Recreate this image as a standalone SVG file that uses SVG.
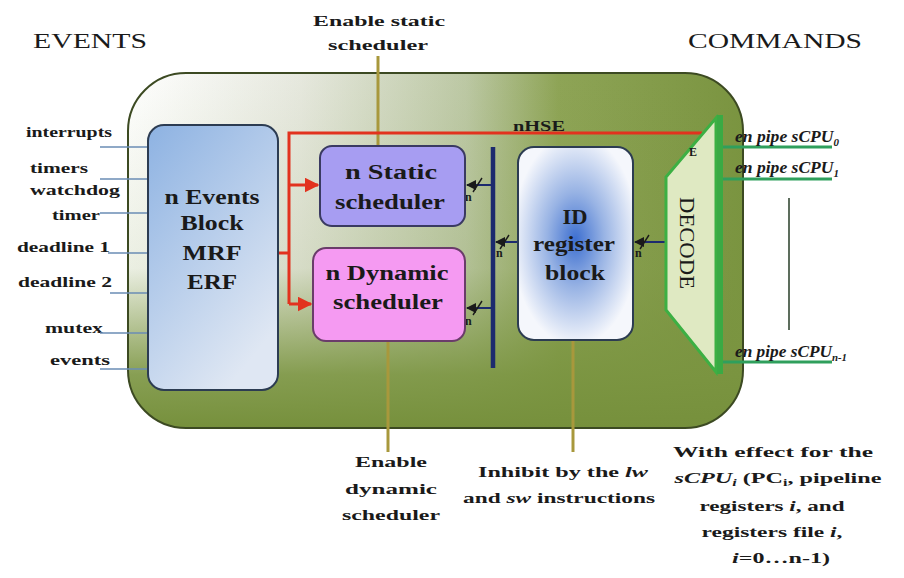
<svg xmlns="http://www.w3.org/2000/svg" width="904" height="578" viewBox="0 0 904 578">
  <style>
    text { font-family: "Liberation Serif", "Times New Roman", serif; fill: #1a1a1a; }
    .b { font-weight: bold; }
    .lbl { font-size: 14px; font-weight: bold; }
    .box { font-size: 20px; font-weight: bold; text-anchor: middle; }
    .cap { font-size: 15px; font-weight: bold; text-anchor: middle; }
    .head { font-size: 22px; }
    .out { font-size: 16px; font-style: italic; font-weight: bold; }
    .n { font-size: 12px; font-weight: bold; }
    .in { stroke: #6a8cb4; stroke-width: 1.6; fill: none; }
    .olive { stroke: #a8983c; stroke-width: 3; fill: none; }
    .red { stroke: #e2321e; stroke-width: 3; fill: none; }
    .bus { stroke: #1c2a6e; stroke-width: 2; fill: none; }
    .tick { stroke: #1a1a1a; stroke-width: 1.4; fill: none; }
    .grn { stroke: #2f9f5c; stroke-width: 3; fill: none; }
  </style>
  <defs>
    <linearGradient id="hz" gradientUnits="userSpaceOnUse" x1="128" y1="0" x2="743" y2="0">
      <stop offset="0" stop-color="#ffffff"/>
      <stop offset="0.28" stop-color="#e6e8de"/>
      <stop offset="0.55" stop-color="#bcc8a4"/>
      <stop offset="0.7" stop-color="#8ea456"/>
      <stop offset="1" stop-color="#7a9440"/>
    </linearGradient>
    <linearGradient id="vt" gradientUnits="userSpaceOnUse" x1="0" y1="73" x2="0" y2="428">
      <stop offset="0" stop-color="#7a9440" stop-opacity="0"/>
      <stop offset="0.55" stop-color="#7a9440" stop-opacity="0.15"/>
      <stop offset="0.85" stop-color="#7a9440" stop-opacity="0.9"/>
      <stop offset="1" stop-color="#76903c" stop-opacity="1"/>
    </linearGradient>
    <linearGradient id="evg" x1="0" y1="0" x2="0.6" y2="1">
      <stop offset="0" stop-color="#8db2e2"/>
      <stop offset="1" stop-color="#dfe7f3"/>
    </linearGradient>
    <radialGradient id="idg" cx="0.5" cy="0.48" r="0.55">
      <stop offset="0" stop-color="#3d6fd0"/>
      <stop offset="0.45" stop-color="#98b3e4"/>
      <stop offset="1" stop-color="#f5f7fc"/>
    </radialGradient>
    <marker id="ar" viewBox="0 0 10 10" refX="9" refY="5" markerWidth="5" markerHeight="5" orient="auto">
      <path d="M0,0 L10,5 L0,10 z" fill="#e2321e"/>
    </marker>
    <marker id="ak" viewBox="0 0 10 10" refX="9" refY="5" markerWidth="5" markerHeight="5" orient="auto">
      <path d="M0,0 L10,5 L0,10 z" fill="#1a1a1a"/>
    </marker>
  </defs>

  <rect width="904" height="578" fill="#ffffff"/>

  <!-- headings -->
  <text class="head" x="33" y="48" textLength="114" lengthAdjust="spacingAndGlyphs">EVENTS</text>
  <text class="head" x="688" y="48" textLength="174" lengthAdjust="spacingAndGlyphs">COMMANDS</text>

  <!-- processor body -->
  <g id="body">
    <rect x="128" y="73" width="615" height="355" rx="58" ry="58" fill="url(#hz)"/>
    <rect x="128" y="73" width="615" height="355" rx="58" ry="58" fill="url(#vt)" stroke="#3c4a22" stroke-width="2"/>
  </g>

  <!-- input labels -->
  <g id="inputs">
    <text class="lbl" x="26" y="137" textLength="86" lengthAdjust="spacingAndGlyphs">interrupts</text>
    <text class="lbl" x="30" y="173" textLength="58" lengthAdjust="spacingAndGlyphs">timers</text>
    <text class="lbl" x="30" y="195" textLength="90" lengthAdjust="spacingAndGlyphs">watchdog</text>
    <text class="lbl" x="52" y="220" textLength="48" lengthAdjust="spacingAndGlyphs">timer</text>
    <text class="lbl" x="17" y="252" textLength="93" lengthAdjust="spacingAndGlyphs">deadline 1</text>
    <text class="lbl" x="18" y="287" textLength="94" lengthAdjust="spacingAndGlyphs">deadline 2</text>
    <text class="lbl" x="45" y="333" textLength="58" lengthAdjust="spacingAndGlyphs">mutex</text>
    <text class="lbl" x="50" y="365" textLength="60" lengthAdjust="spacingAndGlyphs">events</text>
  </g>

  <!-- connectors -->
  <g id="connectors">
    <!-- event inputs -->
    <line class="in" x1="100" y1="147" x2="148" y2="147"/>
    <line class="in" x1="100" y1="179" x2="148" y2="179"/>
    <line class="in" x1="100" y1="213" x2="148" y2="213"/>
    <line class="in" x1="108" y1="253" x2="148" y2="253"/>
    <line class="in" x1="110" y1="293" x2="148" y2="293"/>
    <line class="in" x1="100" y1="333" x2="148" y2="333"/>
    <line class="in" x1="100" y1="369" x2="148" y2="369"/>

    <!-- enable / inhibit lines -->
    <line class="olive" x1="378" y1="56" x2="378" y2="146"/>
    <line class="olive" x1="388" y1="341" x2="388" y2="452"/>
    <line class="olive" x1="573" y1="340" x2="573" y2="452"/>

    <!-- nHSE and scheduler activation -->
    <polyline class="red" points="702,133 289,133 289,304"/>
    <line class="red" x1="277" y1="253" x2="289" y2="253"/>
    <line class="red" x1="289" y1="185" x2="318" y2="185" marker-end="url(#ar)"/>
    <line class="red" x1="289" y1="304" x2="311" y2="304" marker-end="url(#ar)"/>

    <!-- n-bit bus -->
    <line x1="493" y1="147" x2="493" y2="368" stroke="#1c2a6e" stroke-width="4.5"/>
    <line class="bus" x1="493" y1="185" x2="467" y2="185" marker-end="url(#ak)"/>
    <line class="tick" x1="473" y1="192" x2="482" y2="178"/>
    <line class="bus" x1="493" y1="308" x2="467" y2="308" marker-end="url(#ak)"/>
    <line class="tick" x1="473" y1="315" x2="482" y2="301"/>
    <line class="bus" x1="518" y1="242" x2="496" y2="242" marker-end="url(#ak)"/>
    <line class="tick" x1="500" y1="249" x2="509" y2="235"/>
    <line class="bus" x1="666" y1="242" x2="635" y2="242" marker-end="url(#ak)"/>
    <line class="tick" x1="640" y1="249" x2="649" y2="235"/>

    <!-- decoded enables -->
    <line class="grn" x1="720" y1="147" x2="832" y2="147"/>
    <line class="grn" x1="720" y1="179" x2="832" y2="179"/>
    <line class="grn" x1="720" y1="362" x2="832" y2="362"/>
    <line x1="789" y1="198" x2="789" y2="330" stroke="#5d6d5d" stroke-width="2"/>
  </g>

  <!-- bus width labels -->
  <g id="widths">
    <text class="n" x="465" y="201">n</text>
    <text class="n" x="465" y="325">n</text>
    <text class="n" x="496" y="257">n</text>
    <text class="n" x="635" y="257">n</text>
  </g>

  <g id="events-block">
    <rect x="148" y="125" width="130" height="265" rx="16" fill="url(#evg)" stroke="#2c3c52" stroke-width="2"/>
    <text class="box" x="212" y="204" textLength="95" lengthAdjust="spacingAndGlyphs">n Events</text>
    <text class="box" x="212" y="230" textLength="63" lengthAdjust="spacingAndGlyphs">Block</text>
    <text class="box" x="212" y="260" textLength="59" lengthAdjust="spacingAndGlyphs">MRF</text>
    <text class="box" x="212" y="289" textLength="50" lengthAdjust="spacingAndGlyphs">ERF</text>
  </g>

  <g id="static-scheduler">
    <rect x="320" y="146" width="145" height="80" rx="12" fill="#a79df2" stroke="#3a3a62" stroke-width="2"/>
    <text class="box" x="391" y="179" textLength="92" lengthAdjust="spacingAndGlyphs">n Static</text>
    <text class="box" x="390" y="209" textLength="110" lengthAdjust="spacingAndGlyphs">scheduler</text>
  </g>

  <g id="dynamic-scheduler">
    <rect x="313" y="248" width="152" height="93" rx="13" fill="#f59af2" stroke="#6a3c6a" stroke-width="2"/>
    <text class="box" x="387" y="280" textLength="123" lengthAdjust="spacingAndGlyphs">n Dynamic</text>
    <text class="box" x="388" y="309" textLength="110" lengthAdjust="spacingAndGlyphs">scheduler</text>
  </g>

  <g id="id-register-block">
    <rect x="518" y="147" width="115" height="193" rx="16" fill="url(#idg)" stroke="#2c3c52" stroke-width="2"/>
    <text class="box" x="575" y="224" textLength="25" lengthAdjust="spacingAndGlyphs">ID</text>
    <text class="box" x="574" y="251" textLength="82" lengthAdjust="spacingAndGlyphs">register</text>
    <text class="box" x="575" y="280" textLength="60" lengthAdjust="spacingAndGlyphs">block</text>
  </g>

  <g id="decode">
    <polygon points="716,118 716,372 666,310 666,177" fill="#dfe9c2" stroke="#3cb043" stroke-width="3"/>
    <line x1="720" y1="115" x2="720" y2="374" stroke="#3aaa44" stroke-width="6"/>
    <text x="680" y="243" font-size="21" text-anchor="middle" transform="rotate(90 680 243)" textLength="92" lengthAdjust="spacingAndGlyphs">DECODE</text>
    <text class="n" x="689" y="156">E</text>
  </g>

  <!-- labels on connectors -->
  <text class="lbl" x="513" y="131" textLength="52" lengthAdjust="spacingAndGlyphs">nHSE</text>

  <g id="outputs">
    <text class="out" x="735" y="142" textLength="104" lengthAdjust="spacingAndGlyphs">en pipe sCPU<tspan font-size="10" dy="4">0</tspan></text>
    <text class="out" x="735" y="173" textLength="104" lengthAdjust="spacingAndGlyphs">en pipe sCPU<tspan font-size="10" dy="4">1</tspan></text>
    <text class="out" x="735" y="357" textLength="112" lengthAdjust="spacingAndGlyphs">en pipe sCPU<tspan font-size="10" dy="4">n-1</tspan></text>
  </g>

  <!-- captions -->
  <g id="captions">
    <text class="cap" x="379" y="26" textLength="132" lengthAdjust="spacingAndGlyphs">Enable static</text>
    <text class="cap" x="378" y="50" textLength="100" lengthAdjust="spacingAndGlyphs">scheduler</text>

    <text class="cap" x="391" y="467" textLength="72" lengthAdjust="spacingAndGlyphs">Enable</text>
    <text class="cap" x="391" y="494" textLength="92" lengthAdjust="spacingAndGlyphs">dynamic</text>
    <text class="cap" x="391" y="520" textLength="98" lengthAdjust="spacingAndGlyphs">scheduler</text>

    <text class="cap" x="563" y="477" textLength="170" lengthAdjust="spacingAndGlyphs">Inhibit by the <tspan font-style="italic">lw</tspan></text>
    <text class="cap" x="559" y="503" textLength="192" lengthAdjust="spacingAndGlyphs">and <tspan font-style="italic">sw</tspan> instructions</text>

    <text class="cap" x="773" y="457" textLength="200" lengthAdjust="spacingAndGlyphs">With effect for the</text>
    <text class="cap" x="778" y="483" textLength="207" lengthAdjust="spacingAndGlyphs"><tspan font-style="italic">sCPU</tspan><tspan font-style="italic" font-size="10" dy="3">i</tspan><tspan dy="-3"> (PC</tspan><tspan font-size="10" dy="3">i</tspan><tspan dy="-3">, pipeline</tspan></text>
    <text class="cap" x="772" y="511" textLength="145" lengthAdjust="spacingAndGlyphs">registers <tspan font-style="italic">i</tspan>, and</text>
    <text class="cap" x="772" y="537" textLength="141" lengthAdjust="spacingAndGlyphs">registers file <tspan font-style="italic">i</tspan>,</text>
    <text class="cap" x="781" y="563" textLength="98" lengthAdjust="spacingAndGlyphs"><tspan font-style="italic">i</tspan>=0…n-1)</text>
  </g>
</svg>
